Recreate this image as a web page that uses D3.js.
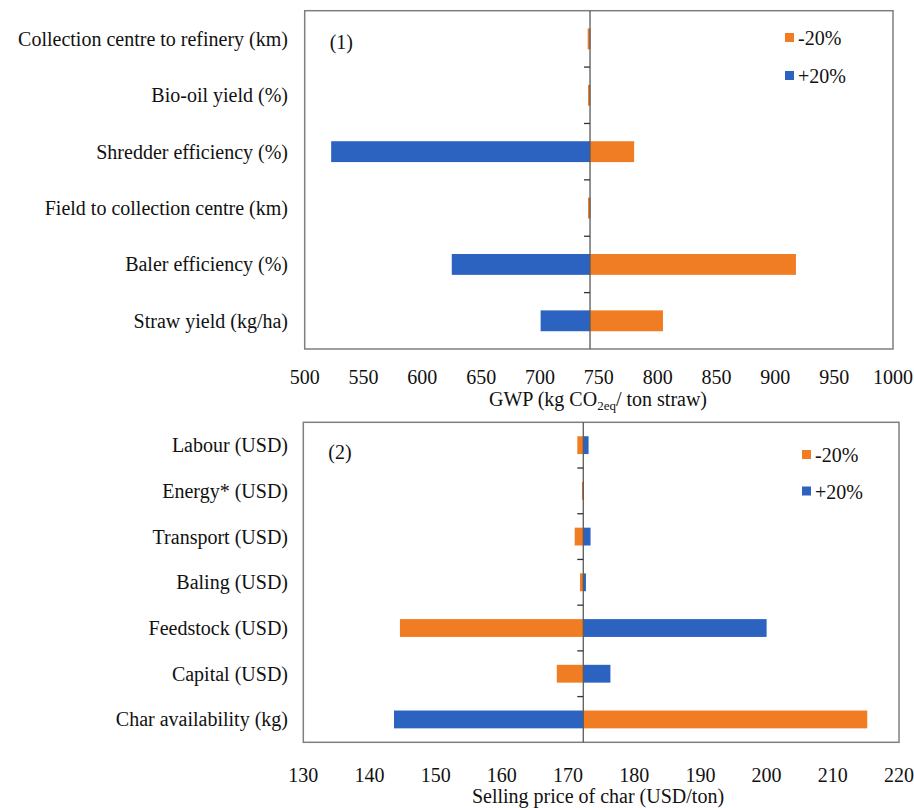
<!DOCTYPE html>
<html>
<head>
<meta charset="utf-8">
<script src="https://cdn.jsdelivr.net/npm/d3@7"></script>
<style>
  body { margin: 0; background: #fff; }
  svg { display: block; font-family: "Liberation Serif", "Times New Roman", serif; }
</style>
</head>
<body>
<div id="chart"></div>
<script>
// tornado charts, two panels

const topCategories = ["Collection centre to refinery (km)", "Bio-oil yield (%)", "Shredder efficiency (%)",
  "Field to collection centre (km)", "Baler efficiency (%)", "Straw yield (kg/ha)"];
const topMinus20 = [740.5, 740.8, 780, 740.8, 917.5, 804.5];
const topPlus20 = [742.8, 742.7, 522.5, 742.8, 625, 700.5];
const topBase = 742.5;
const topTicks = [500, 550, 600, 650, 700, 750, 800, 850, 900, 950, 1000];

const bottomCategories = ["Labour (USD)", "Energy* (USD)", "Transport (USD)", "Baling (USD)",
  "Feedstock (USD)", "Capital (USD)", "Char availability (kg)"];
const bottomMinus20 = [171.4, 172.1, 171.0, 171.8, 144.6, 168.3, 215.2];
const bottomPlus20 = [173.1, 172.4, 173.4, 172.7, 200.0, 176.4, 143.7];
const bottomBase = 172.3;
const bottomTicks = [130, 140, 150, 160, 170, 180, 190, 200, 210, 220];

const seriesNames = ["-20%", "+20%"];
const colors = { minus: "#f07d24", plus: "#2c62c0" };

const width = 914, height = 808;
const fs = 20;

const svg = d3.select("#chart")
  .append("svg")
  .attr("width", width)
  .attr("height", height);

function drawPanel(opt) {
  const x = d3.scaleLinear()
    .domain([opt.ticks[0], opt.ticks[opt.ticks.length - 1]])
    .range([opt.left, opt.right]);

  const y = d3.scaleBand()
    .domain(opt.categories)
    .range([opt.top, opt.bottom])
    .paddingInner(opt.pad)
    .paddingOuter(opt.pad / 2);

  const g = svg.append("g");

  // frame
  g.append("rect")
    .attr("x", opt.left)
    .attr("y", opt.top)
    .attr("width", opt.right - opt.left)
    .attr("height", opt.bottom - opt.top)
    .attr("fill", "none")
    .attr("stroke", "#7f7f7f")
    .attr("stroke-width", 1.5);

  const rows = opt.categories.map((c, i) => ({ c, minus: opt.minus[i], plus: opt.plus[i] }));

  // bars from the base value
  g.selectAll("rect.minus")
    .data(rows)
    .enter()
    .append("rect")
    .attr("x", d => x(Math.min(d.minus, opt.base)))
    .attr("y", d => y(d.c))
    .attr("width", d => Math.abs(x(d.minus) - x(opt.base)))
    .attr("height", y.bandwidth())
    .attr("fill", colors.minus);

  g.selectAll("rect.plus")
    .data(rows)
    .enter()
    .append("rect")
    .attr("x", d => x(Math.min(d.plus, opt.base)))
    .attr("y", d => y(d.c))
    .attr("width", d => Math.abs(x(d.plus) - x(opt.base)))
    .attr("height", y.bandwidth())
    .attr("fill", colors.plus);

  // category axis on the base line
  g.append("line")
    .attr("x1", x(opt.base))
    .attr("x2", x(opt.base))
    .attr("y1", opt.top)
    .attr("y2", opt.bottom)
    .attr("stroke", "#595959")
    .attr("stroke-width", 1.3);

  const step = y.step();
  g.selectAll("line.tick")
    .data(d3.range(1, opt.categories.length))
    .enter()
    .append("line")
    .attr("x1", x(opt.base) - 6)
    .attr("x2", x(opt.base))
    .attr("y1", i => opt.top + i * step)
    .attr("y2", i => opt.top + i * step)
    .attr("stroke", "#333")
    .attr("stroke-width", 1.3);

  // category labels
  g.selectAll("text.cat")
    .data(opt.categories)
    .enter()
    .append("text")
    .attr("x", 288)
    .attr("y", d => y(d) + y.bandwidth() / 2)
    .attr("dy", "0.35em")
    .attr("text-anchor", "end")
    .attr("font-size", fs)
    .attr("fill", "#111")
    .text(d => d);

  // value axis labels
  g.selectAll("text.val")
    .data(opt.ticks)
    .enter()
    .append("text")
    .attr("x", d => x(d))
    .attr("y", opt.bottom + opt.tickDy)
    .attr("text-anchor", "middle")
    .attr("font-size", fs)
    .attr("fill", "#111")
    .text(d => d);

  // panel tag
  g.append("text")
    .attr("x", opt.left + 25)
    .attr("y", opt.top + opt.tagDy)
    .attr("font-size", fs)
    .attr("fill", "#111")
    .text(opt.tag);

  // legend
  const lg = g.append("g");
  seriesNames.forEach((s, i) => {
    const ly = opt.legendY + i * opt.legendGap;
    lg.append("rect")
      .attr("x", opt.legendX)
      .attr("y", ly - 12)
      .attr("width", 9)
      .attr("height", 9)
      .attr("fill", i === 0 ? colors.minus : colors.plus);
    lg.append("text")
      .attr("x", opt.legendX + 13)
      .attr("y", ly)
      .attr("font-size", fs)
      .attr("fill", "#111")
      .text(s);
  });

  return g;
}

const g1 = drawPanel({
  categories: topCategories, minus: topMinus20, plus: topPlus20, base: topBase, ticks: topTicks,
  left: 304.7, right: 893, top: 10.7, bottom: 349, pad: 0.63, tickDy: 35,
  tag: "(1)", tagDy: 38, legendX: 785, legendY: 45, legendGap: 38
});

// GWP title with subscript
const t1 = g1.append("text")
  .attr("x", 598)
  .attr("y", 406)
  .attr("text-anchor", "middle")
  .attr("font-size", fs)
  .attr("fill", "#111");
t1.append("tspan").text("GWP (kg CO");
t1.append("tspan").attr("font-size", 13).attr("dy", 4).text("2eq");
t1.append("tspan").attr("dy", -4).text("/ ton straw)");

const g2 = drawPanel({
  categories: bottomCategories, minus: bottomMinus20, plus: bottomPlus20, base: bottomBase, ticks: bottomTicks,
  left: 303.3, right: 899, top: 422.3, bottom: 742.3, pad: 0.61, tickDy: 40,
  tag: "(2)", tagDy: 37, legendX: 802, legendY: 462, legendGap: 36.5
});

g2.append("text")
  .attr("x", 598)
  .attr("y", 803)
  .attr("text-anchor", "middle")
  .attr("font-size", fs)
  .attr("fill", "#111")
  .text("Selling price of char (USD/ton)");
</script>
</body>
</html>
